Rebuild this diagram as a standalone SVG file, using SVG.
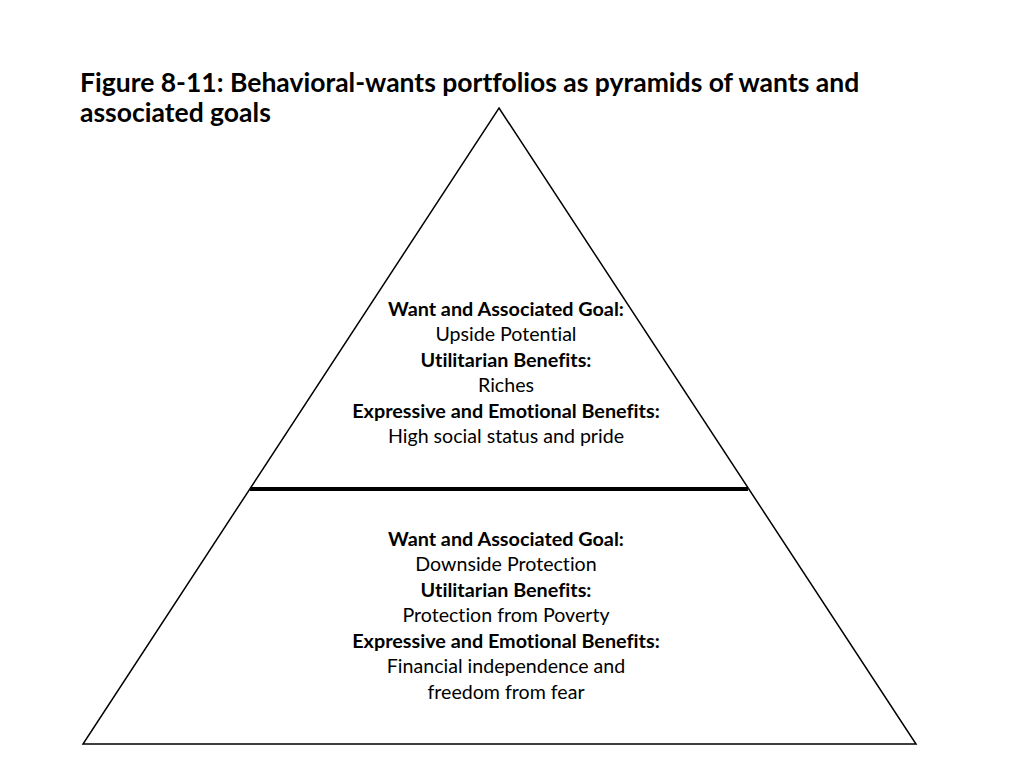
<svg xmlns="http://www.w3.org/2000/svg" width="1024" height="768" viewBox="0 0 1024 768">
<style>
text{font-family:Lato,"Open Sans","Liberation Sans",sans-serif;fill:#000;font-variant-ligatures:none}
.t{font-size:26.5px;font-weight:bold}
.b{font-size:19.8px;font-weight:bold;text-anchor:middle}
.n{font-size:19.6px;text-anchor:middle}
.edge{stroke:#000;fill:none}
</style>
<rect width="1024" height="768" fill="#fff"/>
<g id="title">
<text class="t" x="80" y="92">Figure 8-11: Behavioral-wants portfolios as pyramids of wants and</text>
<text class="t" x="80" y="122">associated goals</text>
</g>
<g id="connectors">
<polygon class="edge" stroke-width="1.5" points="499,108 916,744 83,744"/>
<line class="edge" stroke-width="4" x1="250" y1="489" x2="748" y2="489"/>
</g>
<g id="upper">
<text class="b" x="506" y="316">Want and Associated Goal:</text>
<text class="n" x="506" y="341">Upside Potential</text>
<text class="b" x="506" y="367">Utilitarian Benefits:</text>
<text class="n" x="506" y="392">Riches</text>
<text class="b" x="506" y="418">Expressive and Emotional Benefits:</text>
<text class="n" x="506" y="443">High social status and pride</text>
</g>
<g id="lower">
<text class="b" x="506" y="546">Want and Associated Goal:</text>
<text class="n" x="506" y="571">Downside Protection</text>
<text class="b" x="506" y="597">Utilitarian Benefits:</text>
<text class="n" x="506" y="622">Protection from Poverty</text>
<text class="b" x="506" y="648">Expressive and Emotional Benefits:</text>
<text class="n" x="506" y="673">Financial independence and</text>
<text class="n" x="506" y="699">freedom from fear</text>
</g>
</svg>
